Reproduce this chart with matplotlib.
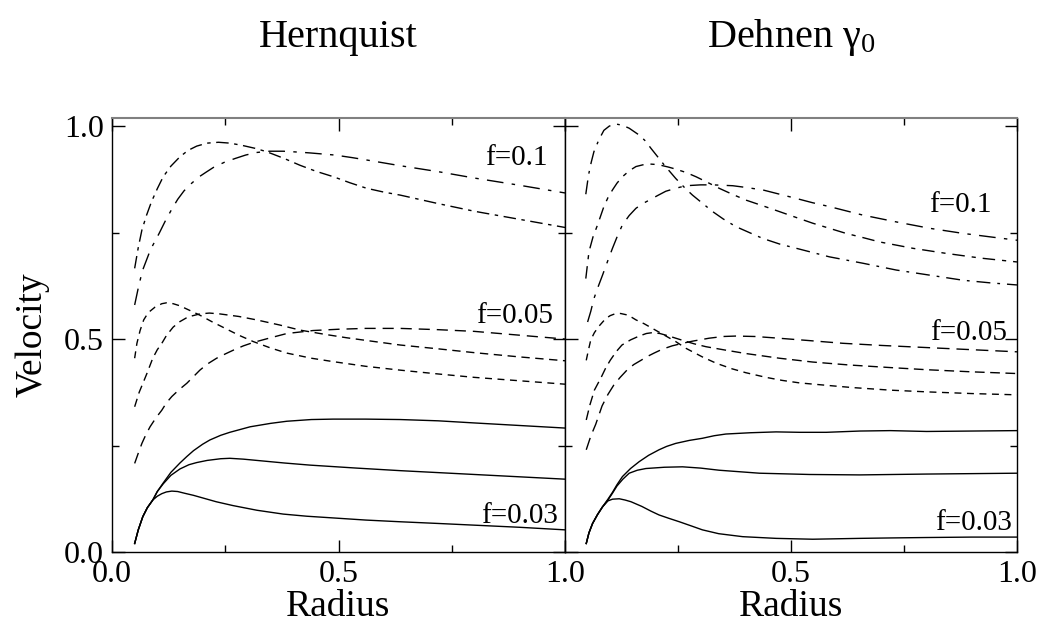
import matplotlib
matplotlib.use("Agg")
import matplotlib.pyplot as plt
from matplotlib.ticker import MultipleLocator, FormatStrFormatter

plt.rcParams['font.family'] = ['Liberation Serif', 'DejaVu Serif']
plt.rcParams['mathtext.fontset'] = 'custom'
plt.rcParams['mathtext.rm'] = 'Liberation Serif'
plt.rcParams['mathtext.it'] = 'Liberation Serif:italic'

# ---- Hernquist panel ----
# f = 0.1 (dash-dot)
hq_d_x = [0.05, 0.058, 0.066, 0.076, 0.087, 0.1, 0.113, 0.13, 0.15, 0.168, 0.187, 0.21, 0.235, 0.26, 0.286,
          0.315, 0.341, 0.38, 0.415, 0.45, 0.489, 0.525, 0.562, 0.6, 0.636, 0.72, 0.8, 0.9, 1.0]
hq_d_y = [0.666, 0.715, 0.756, 0.79, 0.822, 0.853, 0.881, 0.906, 0.928, 0.943, 0.953, 0.96, 0.962, 0.96, 0.955,
          0.948, 0.94, 0.924, 0.908, 0.894, 0.881, 0.867, 0.854, 0.845, 0.838, 0.818, 0.80, 0.781, 0.762]
hq_e_x = [0.05, 0.058, 0.067, 0.085, 0.104, 0.118, 0.132, 0.145, 0.159, 0.175, 0.191, 0.208, 0.224, 0.248, 0.272,
          0.295, 0.319, 0.348, 0.378, 0.41, 0.437, 0.492, 0.53, 0.57, 0.636, 0.72, 0.8, 0.9, 1.0]
hq_e_y = [0.58, 0.62, 0.66, 0.71, 0.748, 0.778, 0.805, 0.828, 0.848, 0.865, 0.88, 0.892, 0.903, 0.915, 0.924,
          0.932, 0.938, 0.941, 0.941, 0.939, 0.937, 0.932, 0.926, 0.919, 0.907, 0.893, 0.878, 0.861, 0.843]
# f = 0.05 (dashed)
hq_a_x = [0.05, 0.055, 0.062, 0.07, 0.08, 0.095, 0.11, 0.12, 0.135, 0.15, 0.17, 0.194, 0.22, 0.25, 0.28,
          0.312, 0.35, 0.386, 0.44, 0.488, 0.56, 0.636, 0.72, 0.8, 0.9, 1.0]
hq_a_y = [0.455, 0.49, 0.52, 0.545, 0.562, 0.575, 0.583, 0.585, 0.583, 0.578, 0.568, 0.556, 0.541, 0.525, 0.509,
          0.494, 0.479, 0.467, 0.455, 0.447, 0.436, 0.427, 0.418, 0.41, 0.402, 0.394]
hq_b_x = [0.05, 0.06, 0.077, 0.09, 0.1, 0.11, 0.12, 0.135, 0.15, 0.168, 0.194, 0.215, 0.238, 0.28, 0.319,
          0.37, 0.415, 0.47, 0.518, 0.58, 0.636, 0.72, 0.8, 0.9, 1.0]
hq_b_y = [0.341, 0.375, 0.419, 0.455, 0.475, 0.49, 0.508, 0.528, 0.541, 0.552, 0.559, 0.561, 0.559, 0.553, 0.545,
          0.533, 0.521, 0.511, 0.503, 0.494, 0.486, 0.477, 0.468, 0.458, 0.449]
hq_c_x = [0.05, 0.058, 0.066, 0.075, 0.084, 0.097, 0.11, 0.12, 0.132, 0.148, 0.165, 0.18, 0.194, 0.21, 0.231,
          0.25, 0.268, 0.29, 0.312, 0.35, 0.386, 0.444, 0.5, 0.56, 0.636, 0.72, 0.8, 0.9, 1.0]
hq_c_y = [0.208, 0.232, 0.255, 0.276, 0.294, 0.315, 0.333, 0.35, 0.365, 0.381, 0.396, 0.412, 0.427, 0.441, 0.455,
          0.465, 0.474, 0.484, 0.492, 0.503, 0.513, 0.52, 0.523, 0.525, 0.525, 0.522, 0.518, 0.509, 0.5]
# f = 0.03 (solid)
hq_s1_x = [0.05, 0.058, 0.068, 0.078, 0.09, 0.1, 0.11, 0.12, 0.132, 0.145, 0.16, 0.18, 0.2, 0.23, 0.267,
           0.32, 0.378, 0.43, 0.488, 0.56, 0.636, 0.72, 0.8, 0.9, 1.0]
hq_s1_y = [0.02, 0.052, 0.083, 0.104, 0.122, 0.131, 0.137, 0.141, 0.143, 0.142, 0.138, 0.133, 0.127, 0.118, 0.109,
           0.098, 0.089, 0.084, 0.080, 0.075, 0.071, 0.067, 0.063, 0.058, 0.052]
hq_s2_x = [0.05, 0.058, 0.068, 0.078, 0.09, 0.1, 0.113, 0.13, 0.15, 0.17, 0.187, 0.21, 0.24, 0.26, 0.29,
           0.32, 0.38, 0.437, 0.54, 0.636, 0.8, 1.0]
hq_s2_y = [0.02, 0.052, 0.083, 0.104, 0.122, 0.142, 0.16, 0.18, 0.195, 0.205, 0.21, 0.215, 0.219, 0.22, 0.218,
           0.215, 0.209, 0.204, 0.197, 0.191, 0.182, 0.171]
hq_s3_x = [0.05, 0.058, 0.068, 0.078, 0.09, 0.1, 0.113, 0.13, 0.15, 0.165, 0.18, 0.2, 0.216, 0.24, 0.26,
           0.305, 0.35, 0.386, 0.44, 0.488, 0.56, 0.636, 0.72, 0.8, 0.9, 1.0]
hq_s3_y = [0.02, 0.052, 0.083, 0.104, 0.122, 0.142, 0.162, 0.187, 0.209, 0.224, 0.238, 0.253, 0.263, 0.274, 0.281,
           0.294, 0.302, 0.307, 0.311, 0.312, 0.312, 0.311, 0.308, 0.303, 0.297, 0.291]

# ---- Dehnen gamma_0 panel ----
# f = 0.1 (dash-dot)
dh_i_x = [0.046, 0.052, 0.058, 0.064, 0.075, 0.086, 0.098, 0.112, 0.127, 0.142, 0.164, 0.178, 0.19, 0.205, 0.22,
          0.245, 0.265, 0.282, 0.305, 0.327, 0.35, 0.378, 0.41, 0.438, 0.475, 0.512, 0.585, 0.659, 0.733, 0.807,
          0.881, 0.94, 1.0]
dh_i_y = [0.84, 0.885, 0.915, 0.94, 0.968, 0.99, 1.0, 1.005, 1.002, 0.995, 0.979, 0.965, 0.948, 0.928, 0.908,
          0.877, 0.855, 0.838, 0.818, 0.799, 0.782, 0.764, 0.749, 0.736, 0.723, 0.713, 0.693, 0.678, 0.662, 0.65,
          0.638, 0.632, 0.627]
dh_j_x = [0.046, 0.053, 0.062, 0.072, 0.086, 0.095, 0.105, 0.115, 0.127, 0.142, 0.157, 0.172, 0.186, 0.2, 0.212,
          0.228, 0.245, 0.268, 0.29, 0.315, 0.341, 0.37, 0.401, 0.44, 0.475, 0.51, 0.548, 0.585, 0.622, 0.66,
          0.696, 0.77, 0.844, 0.92, 1.0]
dh_j_y = [0.642, 0.705, 0.74, 0.768, 0.811, 0.832, 0.85, 0.866, 0.881, 0.895, 0.905, 0.909, 0.911, 0.91, 0.908,
          0.904, 0.899, 0.891, 0.881, 0.868, 0.854, 0.84, 0.826, 0.812, 0.799, 0.786, 0.772, 0.76, 0.748, 0.738,
          0.728, 0.713, 0.701, 0.69, 0.681]
dh_k_x = [0.05, 0.057, 0.064, 0.073, 0.083, 0.094, 0.105, 0.116, 0.127, 0.142, 0.157, 0.172, 0.186, 0.205, 0.223,
          0.245, 0.268, 0.3, 0.327, 0.371, 0.4, 0.438, 0.475, 0.512, 0.548, 0.585, 0.622, 0.659, 0.733, 0.807,
          0.881, 0.94, 1.0]
dh_k_y = [0.54, 0.565, 0.595, 0.622, 0.65, 0.682, 0.713, 0.742, 0.768, 0.79, 0.807, 0.818, 0.826, 0.837, 0.847,
          0.854, 0.86, 0.862, 0.862, 0.86, 0.856, 0.85, 0.84, 0.83, 0.82, 0.811, 0.801, 0.791, 0.775, 0.76,
          0.748, 0.74, 0.732]
# f = 0.05 (dashed)
dh_f_x = [0.047, 0.052, 0.057, 0.065, 0.075, 0.09, 0.1, 0.11, 0.123, 0.14, 0.157, 0.175, 0.19, 0.22, 0.245,
          0.268, 0.304, 0.335, 0.37, 0.40, 0.445, 0.48, 0.519, 0.593, 0.637, 0.72, 0.8, 0.9, 1.0]
dh_f_y = [0.45, 0.475, 0.498, 0.515, 0.53, 0.548, 0.555, 0.559, 0.56, 0.556, 0.545, 0.536, 0.527, 0.509, 0.494,
          0.478, 0.458, 0.443, 0.43, 0.421, 0.41, 0.403, 0.397, 0.39, 0.386, 0.38, 0.376, 0.372, 0.369]
dh_g_x = [0.047, 0.055, 0.065, 0.08, 0.09, 0.1, 0.113, 0.126, 0.145, 0.164, 0.18, 0.193, 0.21, 0.23, 0.26,
          0.285, 0.312, 0.355, 0.4, 0.474, 0.548, 0.63, 0.72, 0.8, 0.9, 1.0]
dh_g_y = [0.31, 0.345, 0.38, 0.41, 0.432, 0.45, 0.47, 0.486, 0.498, 0.507, 0.513, 0.515, 0.513, 0.507, 0.497,
          0.489, 0.482, 0.474, 0.466, 0.455, 0.446, 0.439, 0.433, 0.428, 0.423, 0.419]
dh_h_x = [0.047, 0.057, 0.068, 0.082, 0.095, 0.108, 0.122, 0.137, 0.152, 0.168, 0.182, 0.197, 0.215, 0.237, 0.26,
          0.282, 0.319, 0.35, 0.378, 0.42, 0.46, 0.533, 0.615, 0.7, 0.8, 0.9, 1.0]
dh_h_y = [0.24, 0.272, 0.3, 0.343, 0.37, 0.392, 0.41, 0.427, 0.44, 0.45, 0.459, 0.467, 0.476, 0.484, 0.49,
          0.495, 0.502, 0.506, 0.507, 0.506, 0.503, 0.497, 0.49, 0.485, 0.48, 0.475, 0.47]
# f = 0.03 (solid)
dh_s1_x = [0.047, 0.053, 0.061, 0.072, 0.083, 0.095, 0.105, 0.12, 0.133, 0.146, 0.17, 0.19, 0.208, 0.23, 0.253,
           0.28, 0.304, 0.34, 0.393, 0.43, 0.467, 0.548, 0.6, 0.652, 0.72, 0.8, 0.9, 1.0]
dh_s1_y = [0.02, 0.045, 0.067, 0.088, 0.106, 0.12, 0.124, 0.125, 0.122, 0.118, 0.107, 0.096, 0.087, 0.079, 0.071,
           0.061, 0.052, 0.043, 0.036, 0.034, 0.032, 0.030, 0.031, 0.032, 0.033, 0.034, 0.035, 0.035]
dh_s2_x = [0.047, 0.053, 0.061, 0.072, 0.083, 0.095, 0.105, 0.115, 0.128, 0.142, 0.16, 0.179, 0.22, 0.26, 0.3,
           0.341, 0.43, 0.541, 0.652, 0.8, 0.9, 1.0]
dh_s2_y = [0.02, 0.045, 0.067, 0.088, 0.106, 0.122, 0.138, 0.155, 0.171, 0.185, 0.192, 0.196, 0.199, 0.2, 0.197,
           0.192, 0.185, 0.182, 0.181, 0.183, 0.184, 0.185]
dh_s3_x = [0.047, 0.053, 0.061, 0.072, 0.083, 0.095, 0.105, 0.115, 0.127, 0.145, 0.164, 0.185, 0.208, 0.225, 0.245,
           0.275, 0.304, 0.33, 0.356, 0.41, 0.467, 0.52, 0.578, 0.652, 0.72, 0.8, 0.9, 1.0]
dh_s3_y = [0.02, 0.045, 0.067, 0.088, 0.106, 0.124, 0.14, 0.158, 0.177, 0.196, 0.212, 0.227, 0.24, 0.248, 0.255,
           0.262, 0.267, 0.273, 0.277, 0.28, 0.282, 0.281, 0.281, 0.284, 0.285, 0.283, 0.284, 0.285]

f_labels = ['f=0.1', 'f=0.05', 'f=0.03']

fig = plt.figure(figsize=(10.39, 6.31), dpi=100)
ax1 = fig.add_axes([0.1078, 0.1252, 0.436, 0.6878])
ax2 = fig.add_axes([0.5438, 0.1252, 0.435, 0.6878])

lw = 1.0
# Hernquist curves
ax1.plot(hq_d_x, hq_d_y, color='k', lw=lw, ls=(0, (9, 4, 2.5, 4)))
ax1.plot(hq_e_x, hq_e_y, color='k', lw=lw, ls=(0, (12, 6, 2.5, 6)))
ax1.plot(hq_a_x, hq_a_y, color='k', lw=lw, ls=(0, (5, 4)))
ax1.plot(hq_b_x, hq_b_y, color='k', lw=lw, ls=(0, (6, 4)))
ax1.plot(hq_c_x, hq_c_y, color='k', lw=lw, ls=(0, (8, 5)))
for xs, ys in [(hq_s1_x, hq_s1_y), (hq_s2_x, hq_s2_y), (hq_s3_x, hq_s3_y)]:
    ax1.plot(xs, ys, color='k', lw=lw)

# Dehnen curves
ax2.plot(dh_i_x, dh_i_y, color='k', lw=lw, ls=(0, (10, 5, 2, 5)))
ax2.plot(dh_j_x, dh_j_y, color='k', lw=lw, ls=(0, (9, 5, 3, 5)))
ax2.plot(dh_k_x, dh_k_y, color='k', lw=lw, ls=(0, (12, 6, 2.5, 6)))
ax2.plot(dh_f_x, dh_f_y, color='k', lw=lw, ls=(0, (5, 4)))
ax2.plot(dh_g_x, dh_g_y, color='k', lw=lw, ls=(0, (7, 4)))
ax2.plot(dh_h_x, dh_h_y, color='k', lw=lw, ls=(0, (9, 5)))
for xs, ys in [(dh_s1_x, dh_s1_y), (dh_s2_x, dh_s2_y), (dh_s3_x, dh_s3_y)]:
    ax2.plot(xs, ys, color='k', lw=lw)

# f labels
for ax, xs, ys in [(ax1, [0.961, 0.974, 0.985], [0.908, 0.538, 0.067]),
                   (ax2, [0.944, 0.978, 0.989], [0.799, 0.498, 0.052])]:
    for lab, x, y in zip(f_labels, xs, ys):
        ax.text(x, y, lab, ha='right', va='baseline', fontsize=21)

for ax in (ax1, ax2):
    ax.set_xlim(0, 1.0)
    ax.set_ylim(0, 1.019)
    ax.xaxis.set_major_locator(MultipleLocator(0.5))
    ax.xaxis.set_minor_locator(MultipleLocator(0.25))
    ax.yaxis.set_major_locator(MultipleLocator(0.5))
    ax.yaxis.set_minor_locator(MultipleLocator(0.25))
    ax.xaxis.set_major_formatter(FormatStrFormatter('%.1f'))
    ax.yaxis.set_major_formatter(FormatStrFormatter('%.1f'))
    ax.tick_params(which='both', direction='in', top=True, right=True, width=1)
    ax.tick_params(which='major', length=9, labelsize=23, pad=6)
    ax.tick_params(which='minor', length=5)
    for side in ('left', 'right', 'bottom'):
        ax.spines[side].set_linewidth(1.0)
    ax.spines['top'].set_color('0.5')
    ax.spines['top'].set_linewidth(1.5)
    ax.set_xlabel('Radius', fontsize=27, labelpad=0)

ax1.set_ylabel('Velocity', fontsize=27, labelpad=10)
ax2.tick_params(labelleft=False)
ax2.set_xticks([0.0, 0.5, 1.0])
ax2.set_xticklabels(['', '0.5', '1.0'])

fig.text(0.3255, 0.94, 'Hernquist', ha='center', va='center', fontsize=29)
fig.text(0.7613, 0.94, r'Dehnen $\mathrm{\gamma}_0$', ha='center', va='center', fontsize=29)

fig.savefig('out.png', dpi=100)
